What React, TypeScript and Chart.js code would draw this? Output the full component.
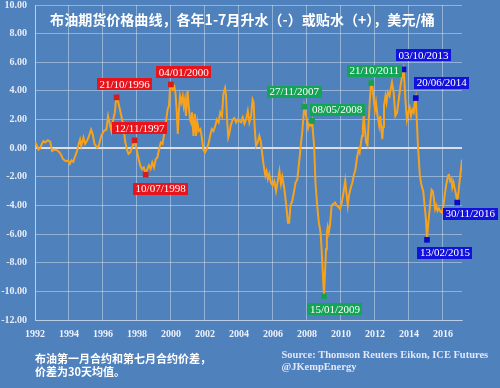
import React, { useEffect, useRef } from "react";
import { Chart, registerables } from "chart.js";
Chart.register(...registerables);

const TITLE = "布油期货价格曲线，各年1-7月升水（-）或贴水（+），美元/桶";
const NOTE_LINES = ["布油第一月合约和第七月合约价差，", "价差为30天均值。"];
const SOURCE_LINES = ["Source: Thomson Reuters Eikon, ICE Futures", "@JKempEnergy"];

const X_TICKS = [1992, 1994, 1996, 1998, 2000, 2002, 2004, 2006, 2008, 2010, 2012, 2014, 2016];
const Y_TICKS = [-12, -10, -8, -6, -4, -2, 0, 2, 4, 6, 8, 10];

const years = [
  1992.0, 1992.1, 1992.2, 1992.3, 1992.4, 1992.5, 1992.6, 1992.75, 1992.9, 1993.0,
  1993.15, 1993.3, 1993.45, 1993.55, 1993.65, 1993.75, 1993.85, 1993.95, 1994.05, 1994.15,
  1994.25, 1994.35, 1994.45, 1994.55, 1994.65, 1994.72, 1994.85, 1994.95, 1995.05, 1995.15,
  1995.3, 1995.4, 1995.5, 1995.65, 1995.75, 1995.9, 1996.05, 1996.2, 1996.3, 1996.4,
  1996.5, 1996.6, 1996.7, 1996.75, 1996.8, 1996.88, 1996.95, 1997.05, 1997.2, 1997.3,
  1997.4, 1997.5, 1997.6, 1997.7, 1997.8, 1997.86, 1997.95, 1998.1, 1998.2, 1998.3,
  1998.4, 1998.46, 1998.51, 1998.6, 1998.7, 1998.8, 1998.9, 1999.0, 1999.1, 1999.2,
  1999.3, 1999.4, 1999.5, 1999.6, 1999.7, 1999.8, 1999.88, 1999.94, 1999.99, 2000.1,
  2000.2, 2000.27, 2000.33, 2000.4, 2000.45, 2000.53, 2000.61, 2000.69, 2000.75, 2000.82,
  2000.88, 2000.98, 2001.04, 2001.12, 2001.18, 2001.24, 2001.32, 2001.4, 2001.47, 2001.55,
  2001.63, 2001.73, 2001.8, 2001.9, 2002.0, 2002.1, 2002.2, 2002.3, 2002.4, 2002.5,
  2002.6, 2002.7, 2002.8, 2002.9, 2003.0, 2003.08, 2003.18, 2003.24, 2003.3, 2003.37,
  2003.43, 2003.53, 2003.63, 2003.73, 2003.83, 2003.93, 2004.02, 2004.12, 2004.22, 2004.32,
  2004.42, 2004.52, 2004.61, 2004.71, 2004.8, 2004.86, 2004.92, 2005.0, 2005.1, 2005.2,
  2005.28, 2005.35, 2005.45, 2005.55, 2005.62, 2005.7, 2005.78, 2005.88, 2005.98, 2006.08,
  2006.18, 2006.28, 2006.38, 2006.47, 2006.55, 2006.67, 2006.78, 2006.88, 2006.95, 2007.03,
  2007.13, 2007.23, 2007.33, 2007.43, 2007.52, 2007.6, 2007.66, 2007.72, 2007.78, 2007.84,
  2007.92, 2008.0, 2008.07, 2008.14, 2008.22, 2008.3, 2008.36, 2008.42, 2008.5, 2008.6,
  2008.7, 2008.8, 2008.86, 2008.92, 2008.97, 2009.0, 2009.06, 2009.12, 2009.17, 2009.22,
  2009.28, 2009.35, 2009.45, 2009.55, 2009.65, 2009.75, 2009.85, 2009.95, 2010.05, 2010.15,
  2010.25, 2010.32, 2010.4, 2010.47, 2010.57, 2010.67, 2010.75, 2010.85, 2010.95, 2011.04,
  2011.1, 2011.18, 2011.24, 2011.29, 2011.34, 2011.41, 2011.48, 2011.56, 2011.62, 2011.7,
  2011.78, 2011.84, 2011.9, 2012.0, 2012.06, 2012.15, 2012.25, 2012.31, 2012.38, 2012.43,
  2012.48, 2012.53, 2012.62, 2012.68, 2012.76, 2012.86, 2012.92, 2013.0, 2013.1, 2013.2,
  2013.3, 2013.4, 2013.5, 2013.6, 2013.68, 2013.74, 2013.8, 2013.88, 2013.96, 2014.04,
  2014.12, 2014.2, 2014.28, 2014.34, 2014.4, 2014.46, 2014.52, 2014.58, 2014.64, 2014.72,
  2014.84, 2014.92, 2015.0, 2015.06, 2015.14, 2015.24, 2015.33, 2015.4, 2015.47, 2015.54,
  2015.61, 2015.68, 2015.76, 2015.84, 2015.94, 2016.02, 2016.1, 2016.2, 2016.3, 2016.35,
  2016.42, 2016.5, 2016.55, 2016.62, 2016.7, 2016.76, 2016.84, 2016.92, 2016.98, 2017.04,
  2017.1, 2017.12,
];

const spread = [
  0.47, 0.2, -0.1, 0.0, 0.3, 0.5, 0.4, 0.55, 0.45, -0.2,
  -0.1, -0.15, -0.3, -0.5, -0.77, -0.85, -0.9, -0.85, -1.1, -0.85,
  -0.95, -0.6, -0.3, 0.2, 0.6, 0.15, 0.75, 0.3, 0.5, 0.75,
  1.3, 0.95, 0.3, 0.05, 0.15, 0.86, 1.2, 1.3, 2.25, 1.7,
  1.2, 2.0, 2.5, 3.2, 3.5, 3.3, 2.95, 2.4, 1.55, 0.5,
  -0.07, -0.4, -0.3, 0.05, 0.3, 0.55, 0.05, -0.77, -1.23, -1.47,
  -1.35, -1.6, -1.85, -1.5, -1.2, -1.45, -1.0, -1.35, -0.77, -0.65,
  -0.07, 0.4, 0.3, 1.0, 1.8, 2.7, 2.95, 4.1, 4.4, 4.1,
  4.3, 3.8, 2.7, 1.0, 2.3, 3.65, 3.2, 3.65, 2.95, 3.4,
  2.25, 4.0, 2.95, 2.0, 1.8, 2.5, 0.86, 2.4, 0.86, 1.8,
  1.2, 1.33, 0.86, -0.07, -0.3, -0.07, 0.28, 0.86, 1.33, 1.2,
  1.55, 2.0, 1.8, 2.5, 2.25, 3.77, 4.2, 3.65, 2.0, 0.75,
  1.0, 1.65, 2.0, 2.1, 1.8, 2.0, 1.9, 1.8, 2.15, 1.7,
  2.0, 2.6, 1.8, 2.25, 3.4, 3.2, 1.55, 0.16, 0.4, 0.86,
  0.5, -0.2, -1.2, -1.9, -1.6, -2.15, -1.8, -2.4, -2.6, -2.3,
  -3.0, -2.3, -1.6, -2.5, -2.0, -2.85, -4.0, -5.2, -5.2, -4.0,
  -3.7, -3.1, -2.4, -2.2, -1.2, -0.28, 0.5, 1.1, 2.0, 2.9,
  2.4, 2.0, 1.4, 1.7, 1.6, 1.9, 1.0, 0.2, -2.4, -4.0,
  -5.2, -5.9, -7.06, -8.46, -9.6, -10.3, -8.7, -7.06, -5.9, -5.5,
  -5.9, -5.4, -4.0, -3.9, -3.8, -4.0, -4.1, -4.25, -3.8, -3.08,
  -2.27, -3.1, -4.0, -3.3, -2.8, -2.4, -1.9, -1.5, -0.6, -0.1,
  -0.3, 0.4, 0.86, 1.5, 2.25, 1.3, 0.4, 0.2, 1.6, 3.4,
  4.55, 4.4, 3.65, 2.7, 3.2, 2.25, 1.56, 2.25, 1.3, 0.63,
  1.5, 2.95, 3.65, 3.2, 3.9, 3.65, 4.1, 4.6, 3.9, 2.25,
  2.5, 3.4, 4.35, 5.05, 5.5, 4.5, 3.2, 2.0, 2.5, 2.84,
  2.25, 2.7, 2.5, 3.2, 3.5, 2.0, 0.4, -0.77, -1.9, -2.5,
  -3.0, -4.0, -5.0, -6.3, -5.2, -4.0, -2.9, -3.0, -3.56, -4.25,
  -4.0, -4.37, -4.2, -4.4, -4.5, -4.1, -3.3, -2.5, -1.93, -1.8,
  -2.3, -2.16, -2.74, -2.4, -2.86, -3.2, -3.7, -3.0, -2.28, -1.7,
  -1.0, -0.8,
];

const markerLabels = [
  "21/10/1996", "12/11/1997", "10/07/1998", "04/01/2000",
  "27/11/2007", "08/05/2008", "15/01/2009", "21/10/2011",
  "03/10/2013", "20/06/2014", "13/02/2015", "30/11/2016",
];
const markerYears = [1996.8, 1997.86, 1998.51, 1999.99, 2007.84, 2008.3, 2009.0, 2011.78, 2013.68, 2014.4, 2015.06, 2016.84];
const markerValues = [3.55, 0.55, -1.85, 4.45, 2.9, 1.9, -10.35, 4.55, 5.5, 3.5, -6.4, -3.8];
const markerGroups = ["red", "red", "red", "red", "green", "green", "green", "green", "blue", "blue", "blue", "blue"];

// styling (not data)
const BG = "#4f81bd";
const LINE_COLOR = "#f7a21c";
const GROUP_STYLE: Record<string, { box: string; marker: string }> = {
  red: { box: "#e8141c", marker: "#d41c1c" },
  green: { box: "#13a455", marker: "#14a050" },
  blue: { box: "#1212dc", marker: "#0a0ac8" },
};
const LABEL_OFFSETS: [number, number][] = [
  [8, -13], [5, -12], [15, 14], [13, -12],
  [-10, -15], [25, -11], [11, 13], [3, -12],
  [20, -14], [26, -15], [18, 13], [13, 11],
];

const App: React.FC = () => {
  const ref = useRef<HTMLCanvasElement | null>(null);

  useEffect(() => {
    if (!ref.current) return;

    const bgPlugin = {
      id: "bgPlugin",
      beforeDraw(chart: any) {
        const { ctx, width, height } = chart;
        ctx.save();
        ctx.fillStyle = BG;
        ctx.fillRect(0, 0, width, height);
        ctx.restore();
      },
    };

    const labelPlugin = {
      id: "labelPlugin",
      afterDatasetsDraw(chart: any) {
        const { ctx } = chart;
        const xs = chart.scales.x;
        const ys = chart.scales.y;
        ctx.save();
        ctx.font = "11px 'Liberation Serif', serif";
        ctx.textAlign = "center";
        ctx.textBaseline = "middle";
        markerLabels.forEach((lab, i) => {
          const px = xs.getPixelForValue(markerYears[i]);
          const py = ys.getPixelForValue(markerValues[i]);
          const cx = px + LABEL_OFFSETS[i][0];
          const cy = py + LABEL_OFFSETS[i][1];
          const w = ctx.measureText(lab).width + 5;
          const h = 12;
          ctx.fillStyle = GROUP_STYLE[markerGroups[i]].box;
          ctx.fillRect(Math.round(cx - w / 2), Math.round(cy - h / 2), Math.round(w), h);
          ctx.fillStyle = "#ffffff";
          ctx.fillText(lab, cx, cy + 0.5);
        });
        ctx.restore();
      },
    };

    const textPlugin = {
      id: "textPlugin",
      afterDraw(chart: any) {
        const { ctx } = chart;
        ctx.save();
        let size = 14;
        ctx.font = `bold ${size}px 'Noto Sans CJK SC', sans-serif`;
        const tw = ctx.measureText(TITLE).width;
        size = Math.min(16, size * (385 / tw));
        ctx.font = `bold ${size}px 'Noto Sans CJK SC', sans-serif`;
        ctx.fillStyle = "#ffffff";
        ctx.textAlign = "center";
        ctx.textBaseline = "middle";
        ctx.fillText(TITLE, 242.5, 20);
        ctx.textAlign = "left";
        ctx.font = "bold 11px 'Noto Sans CJK SC', sans-serif";
        ctx.fillText(NOTE_LINES[0], 35, 359);
        ctx.fillText(NOTE_LINES[1], 35, 371.5);
        ctx.font = "bold 10px 'Liberation Serif', serif";
        const sw = ctx.measureText(SOURCE_LINES[0]).width;
        const ss = 10 * (207 / sw);
        ctx.font = `bold ${ss}px 'Liberation Serif', serif`;
        ctx.fillStyle = "#e2e6f6";
        ctx.fillText(SOURCE_LINES[0], 281.5, 355);
        ctx.fillText(SOURCE_LINES[1], 281.5, 367);
        ctx.restore();
      },
    };

    const gridColor = "rgba(255,255,255,0.38)";

    const markerDatasets = ["red", "green", "blue"].map((g) => ({
      type: "line" as const,
      label: g,
      data: markerYears
        .map((x, i) => ({ x, y: markerValues[i], g: markerGroups[i] }))
        .filter((p) => p.g === g)
        .map((p) => ({ x: p.x, y: p.y })),
      showLine: false,
      pointStyle: "rect" as const,
      pointRadius: 4,
      pointBackgroundColor: GROUP_STYLE[g].marker,
      pointBorderColor: GROUP_STYLE[g].marker,
      pointBorderWidth: 0,
      order: 0,
    }));

    const chart = new Chart(ref.current, {
      type: "line",
      data: {
        datasets: [
          {
            label: "spread",
            data: years.map((x, i) => ({ x, y: spread[i] })),
            borderColor: LINE_COLOR,
            borderWidth: 2,
            pointRadius: 0,
            tension: 0,
            fill: false,
            order: 1,
          },
          ...markerDatasets,
        ] as any,
      },
      options: {
        animation: false,
        responsive: false,
        devicePixelRatio: 1,
        layout: { padding: { top: 5, right: 38, left: 0, bottom: 0 } },
        plugins: {
          legend: { display: false },
          title: { display: false },
          tooltip: { enabled: false },
        },
        scales: {
          x: {
            type: "linear",
            min: 1992,
            max: 2017.12,
            afterBuildTicks: (scale: any) => {
              scale.ticks = X_TICKS.map((v) => ({ value: v }));
            },
            afterFit: (scale: any) => {
              scale.height = 68;
              scale.paddingLeft = 0;
              scale.paddingRight = 0;
            },
            grid: { color: gridColor, lineWidth: 1, drawTicks: false },
            border: { display: true, color: gridColor },
            ticks: {
              padding: 8,
              maxRotation: 0,
              autoSkip: false,
              color: "#eef2fa",
              font: { family: "'Liberation Serif', serif", size: 10, weight: "bold" },
              callback: (v: any) => String(v),
            },
          },
          y: {
            type: "linear",
            min: -12,
            max: 10,
            afterBuildTicks: (scale: any) => {
              scale.ticks = Y_TICKS.map((v) => ({ value: v }));
            },
            afterFit: (scale: any) => {
              scale.width = 35;
              scale.paddingTop = 0;
              scale.paddingBottom = 0;
            },
            grid: {
              color: (c: any) => (c.tick && c.tick.value === 0 ? "rgba(225,228,235,0.95)" : gridColor),
              lineWidth: (c: any) => (c.tick && c.tick.value === 0 ? 2 : 1),
              drawTicks: false,
            },
            border: { display: true, color: gridColor },
            ticks: {
              padding: 8,
              color: "#e8edf6",
              font: { family: "'Liberation Serif', serif", size: 10, weight: "bold" },
              callback: (v: any) => Number(v).toFixed(2),
            },
          },
        },
      } as any,
      plugins: [bgPlugin, labelPlugin, textPlugin],
    });

    return () => chart.destroy();
  }, []);

  return (
    <div style={{ position: "fixed", left: 0, top: 0, width: 500, height: 388, background: BG }}>
      <canvas ref={ref} width={500} height={388} style={{ display: "block", width: 500, height: 388 }} />
    </div>
  );
};

export default App;
